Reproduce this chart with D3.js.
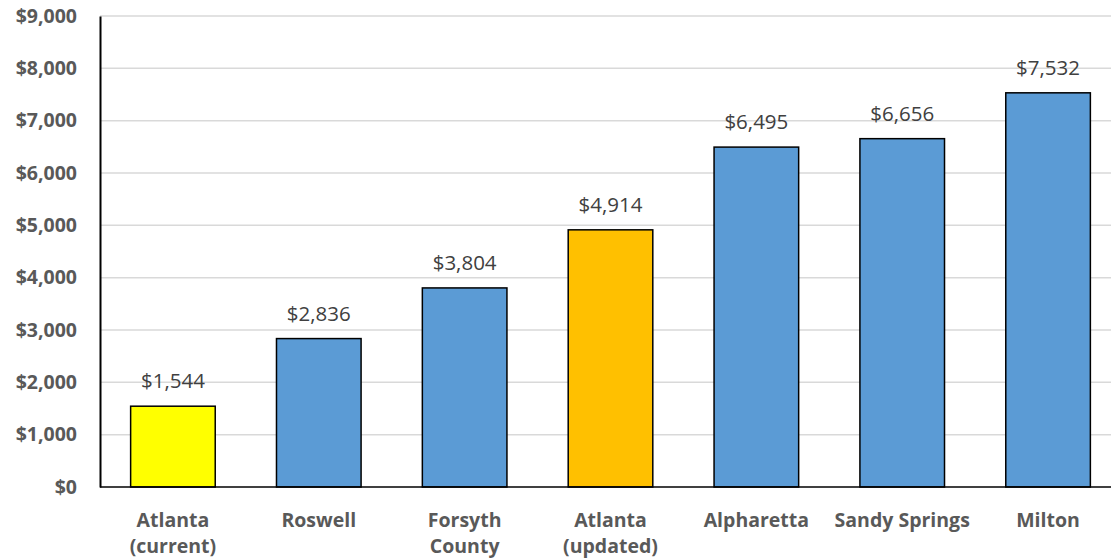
<!DOCTYPE html>
<html>
<head>
<meta charset="utf-8">
<script src="https://cdn.jsdelivr.net/npm/d3@7"></script>
<style>
  html, body { margin: 0; padding: 0; background: #fff; }
  svg { display: block; }
</style>
</head>
<body>
<svg id="chart" width="1111" height="560"></svg>
<script>
// Per-unit cost by jurisdiction
const categories = [
  ["Atlanta", "(current)"],
  ["Roswell"],
  ["Forsyth", "County"],
  ["Atlanta", "(updated)"],
  ["Alpharetta"],
  ["Sandy Springs"],
  ["Milton"]
];
const values = [1544, 2836, 3804, 4914, 6495, 6656, 7532];
const barColors = ["#FFFF00", "#5B9BD5", "#5B9BD5", "#FFC000", "#5B9BD5", "#5B9BD5", "#5B9BD5"];
const yTicks = [0, 1000, 2000, 3000, 4000, 5000, 6000, 7000, 8000, 9000];

const svg = d3.select("#chart");
const plotLeft = 100, plotRight = 1121, plotTop = 16, plotBottom = 487;
const font = "'Open Sans', Calibri, sans-serif";

const x = d3.scaleBand()
  .domain(d3.range(categories.length))
  .range([plotLeft, plotRight])
  .paddingInner(0.42)
  .paddingOuter(0.21);

const y = d3.scaleLinear().domain([0, 9000]).range([plotBottom, plotTop]);
const money = d3.format("$,");

// Horizontal gridlines
svg.append("g")
  .selectAll("line")
  .data(yTicks.filter(d => d > 0))
  .join("line")
  .attr("x1", plotLeft).attr("x2", 1111)
  .attr("y1", d => y(d)).attr("y2", d => y(d))
  .attr("stroke", "#d9d9d9").attr("stroke-width", 1.5);

// Y axis
const yAxis = svg.append("g")
  .attr("transform", `translate(${plotLeft},0)`)
  .call(d3.axisLeft(y).tickValues(yTicks).tickFormat(money).tickSize(0).tickPadding(23));
yAxis.select(".domain").attr("stroke", "#000").attr("stroke-width", 2);
yAxis.selectAll("text")
  .attr("font-family", font).attr("font-size", 19.5).attr("font-weight", "bold")
  .attr("fill", "#595959");

// Bars
svg.append("g")
  .selectAll("rect")
  .data(values)
  .join("rect")
  .attr("x", (d, i) => x(i))
  .attr("width", x.bandwidth())
  .attr("y", d => y(d))
  .attr("height", d => y(0) - y(d))
  .attr("fill", (d, i) => barColors[i])
  .attr("stroke", "#000").attr("stroke-width", 1.5);

// Baseline
svg.append("line")
  .attr("x1", plotLeft).attr("x2", 1111)
  .attr("y1", y(0)).attr("y2", y(0))
  .attr("stroke", "#000").attr("stroke-width", 1.5);

// Value labels
svg.append("g")
  .selectAll("text")
  .data(values)
  .join("text")
  .attr("x", (d, i) => x(i) + x.bandwidth() / 2)
  .attr("y", d => y(d) - 18)
  .attr("text-anchor", "middle")
  .attr("font-family", font).attr("font-size", 20.5)
  .attr("fill", "#404040")
  .text(d => money(d));

// Category labels
const cat = svg.append("g")
  .selectAll("text")
  .data(categories)
  .join("text")
  .attr("x", (d, i) => x(i) + x.bandwidth() / 2)
  .attr("y", 527)
  .attr("text-anchor", "middle")
  .attr("font-family", font).attr("font-size", 19.5).attr("font-weight", "bold")
  .attr("fill", "#595959");
cat.selectAll("tspan")
  .data(d => d)
  .join("tspan")
  .attr("x", function() { return this.parentNode.getAttribute("x"); })
  .attr("dy", (d, i) => i === 0 ? 0 : 26)
  .text(d => d);
</script>
</body>
</html>
